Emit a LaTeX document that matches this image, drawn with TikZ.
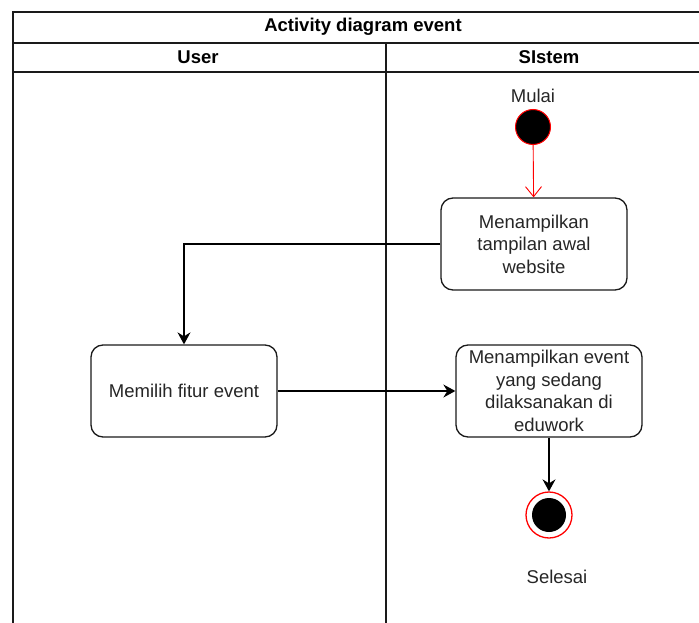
\documentclass[tikz,border=0pt]{standalone}
\usepackage{fontspec}
\setmainfont{Liberation Sans}
\usetikzlibrary{arrows.meta}
\definecolor{ink}{HTML}{1A1A1A}
\definecolor{txt}{HTML}{262626}
\tikzset{
  lane/.style={draw=ink, line width=1.3pt},
  act/.style={draw=ink, line width=1.3pt, rounded corners=12pt, fill=white,
    minimum width=186pt, minimum height=92pt, inner sep=0pt, align=center,
    text=txt, font=\fontsize{18.5}{22.5}\selectfont},
  lbl/.style={text=txt, font=\fontsize{18.5}{22}\selectfont, inner sep=0pt},
  hdr/.style={text=black, font=\bfseries\fontsize{18.5}{22}\selectfont, inner sep=0pt},
  flow/.style={draw=black, line width=1.3pt, -{Stealth[length=12pt,width=13pt,inset=4pt]}},
  startflow/.style={draw=red, line width=0.9pt, -{Straight Barb[length=10pt,width=16pt]}},
}
\begin{document}
\begin{tikzpicture}[x=1pt, y=-1pt]
\useasboundingbox (0,0) rectangle (699,623);
\clip (0,0) rectangle (699,623);

% swimlane frame
\draw[lane] (13,700) -- (13,12) -- (720,12);
\draw[lane] (13,43) -- (720,43);
\draw[lane] (13,72) -- (720,72);
\draw[lane] (386,43) -- (386,700);

\node[hdr] (title) at (363,27) {Activity diagram event};
\node[hdr] (user) at (198,57) {User};
\node[hdr] (sistem) at (549,57) {SIstem};

% start state
\node[lbl] (mulai) at (533,96) {Mulai};
\node[circle, fill=black, draw=red, line width=1pt, minimum size=35pt, inner sep=0pt] (start) at (533,127) {};

% activities
\node[act] (tampil) at (534,244) {Menampilkan\\tampilan awal\\website};
\node[act] (pilih) at (184,391) {Memilih fitur event};
\node[act] (event) at (549,391) {Menampilkan event\\yang sedang\\dilaksanakan di\\eduwork};

% end state
\node[circle, draw=red, line width=1.3pt, fill=white, minimum size=46pt, inner sep=0pt] (end) at (549,515) {};
\node[circle, fill=black, minimum size=34pt, inner sep=0pt] (endin) at (end.center) {};
\node[lbl] (selesai) at (557,577) {Selesai};

% flows
\draw[startflow] (start) -- (tampil);
\draw[flow] (tampil.west) -| (pilih.north);
\draw[flow] (pilih) -- (event);
\draw[flow] (event) -- (end);
\end{tikzpicture}
\end{document}
